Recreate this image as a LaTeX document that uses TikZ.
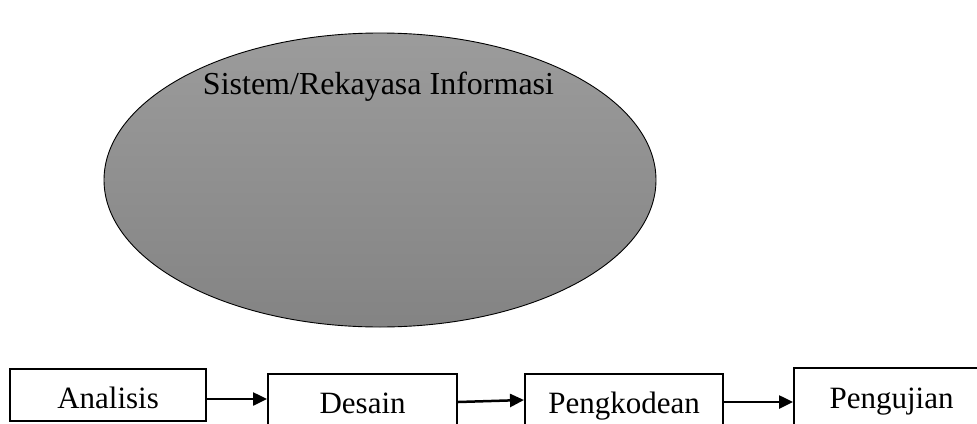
\documentclass[tikz,border=0pt]{standalone}
\usepackage{fontspec}
\setmainfont{Liberation Serif}
\usetikzlibrary{arrows.meta,shapes.geometric}

\tikzset{
  big/.style={font=\fontsize{31}{37}\selectfont},
  title/.style={font=\fontsize{32}{38}\selectfont},
  stage/.style={draw, line width=2.2pt, rectangle, anchor=north west, big,
    inner xsep=0pt, inner ysep=13pt, text height=26pt, text depth=0pt},
  flow/.style={line width=2.5pt, -{Triangle[length=14pt,width=13pt]}},
  sysshape/.style={ellipse, draw, line width=0.9pt, inner sep=0pt,
    top color=gray!78, bottom color=gray!98!black!95}
}

\begin{document}
\begin{tikzpicture}[x=1pt, y=-1pt]
  \useasboundingbox (0,0) rectangle (977,423);
  \clip (0,0) rectangle (977,423);

  % the information system as a shaded ellipse
  \node[sysshape, minimum width=552pt, minimum height=294pt] (sys) at (380,180) {};
  \node[title, anchor=base] (systext) at (378.5,94) {Sistem/Rekayasa Informasi};

  % the four development stages
  \node[stage, minimum width=196pt] (ana) at (9,368) {Analisis};
  \node[stage, minimum width=189pt] (des) at (267,373) {Desain};
  \node[stage, minimum width=198pt] (kod) at (524,373) {Pengkodean};
  \node[stage, minimum width=195pt, inner ysep=17pt, text height=23pt] (uji) at (793,367) {Pengujian};

  % flow between the stages
  \draw[flow] (ana.east |- 0,399) -- (des.west |- 0,399);
  \draw[flow] (des.east |- 0,402) -- (kod.west |- 0,400);
  \draw[flow] (kod.east |- 0,402) -- (uji.west |- 0,402);
\end{tikzpicture}
\end{document}
